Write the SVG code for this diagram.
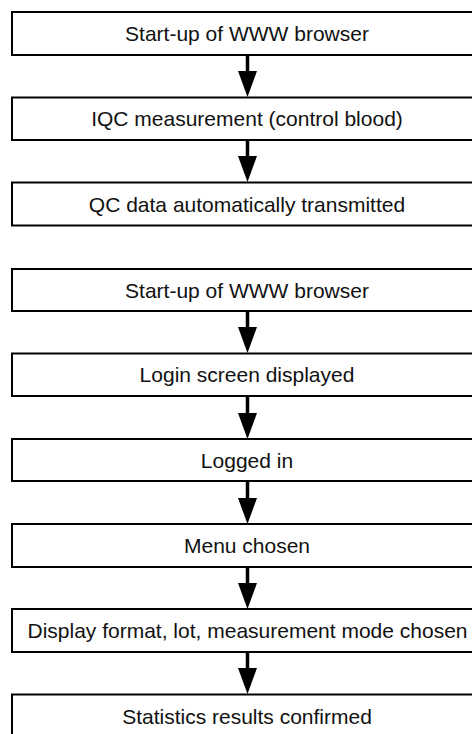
<svg xmlns="http://www.w3.org/2000/svg" width="472" height="734" viewBox="0 0 472 734">
  <defs>
    <style>
      .box { fill: #ffffff; stroke: #000000; stroke-width: 2; }
      .lbl { font-family: "Liberation Sans", Arial, sans-serif; font-size: 21px; fill: #111111; text-anchor: middle; }
      .shaft { stroke: #000000; stroke-width: 3.5; fill: none; }
      .head { fill: #000000; stroke: none; }
    </style>
  </defs>
  <rect width="472" height="734" fill="#ffffff"/>

  <!-- connectors: shaft plus solid triangular head -->
  <g id="connectors">
    <line class="shaft" x1="247.5" y1="55" x2="247.5" y2="73"/>
    <polygon class="head" points="238,71 257,71 247.5,97"/>
    <line class="shaft" x1="247.5" y1="140" x2="247.5" y2="158"/>
    <polygon class="head" points="238,156 257,156 247.5,182"/>

    <line class="shaft" x1="247.5" y1="311" x2="247.5" y2="329"/>
    <polygon class="head" points="238,327 257,327 247.5,353"/>
    <line class="shaft" x1="247.5" y1="396" x2="247.5" y2="415"/>
    <polygon class="head" points="238,413 257,413 247.5,439"/>
    <line class="shaft" x1="247.5" y1="481" x2="247.5" y2="500"/>
    <polygon class="head" points="238,498 257,498 247.5,524"/>
    <line class="shaft" x1="247.5" y1="567" x2="247.5" y2="585"/>
    <polygon class="head" points="238,583 257,583 247.5,609"/>
    <line class="shaft" x1="247.5" y1="652" x2="247.5" y2="670"/>
    <polygon class="head" points="238,668 257,668 247.5,694"/>
  </g>

  <!-- first sequence -->
  <g id="start-browser-1">
    <rect class="box" x="12" y="12" width="480" height="43"/>
    <text class="lbl" x="247" y="41">Start-up of WWW browser</text>
  </g>
  <g id="iqc-measurement">
    <rect class="box" x="12" y="97.5" width="480" height="42.5"/>
    <text class="lbl" x="247" y="126">IQC measurement (control blood)</text>
  </g>
  <g id="qc-transmitted">
    <rect class="box" x="12" y="182.5" width="480" height="43"/>
    <text class="lbl" x="247" y="211.5">QC data automatically transmitted</text>
  </g>

  <!-- second sequence -->
  <g id="start-browser-2">
    <rect class="box" x="12" y="269" width="480" height="42"/>
    <text class="lbl" x="247" y="297.5">Start-up of WWW browser</text>
  </g>
  <g id="login-screen">
    <rect class="box" x="12" y="353.5" width="480" height="42.5"/>
    <text class="lbl" x="247" y="382">Login screen displayed</text>
  </g>
  <g id="logged-in">
    <rect class="box" x="12" y="439" width="480" height="42"/>
    <text class="lbl" x="247" y="467.5">Logged in</text>
  </g>
  <g id="menu-chosen">
    <rect class="box" x="12" y="524" width="480" height="43"/>
    <text class="lbl" x="247" y="553">Menu chosen</text>
  </g>
  <g id="display-format">
    <rect class="box" x="12" y="609" width="480" height="43"/>
    <text class="lbl" x="247.5" y="638">Display format, lot, measurement mode chosen</text>
  </g>
  <g id="statistics-confirmed">
    <rect class="box" x="12" y="694.5" width="480" height="43"/>
    <text class="lbl" x="247" y="723.5">Statistics results confirmed</text>
  </g>
</svg>
